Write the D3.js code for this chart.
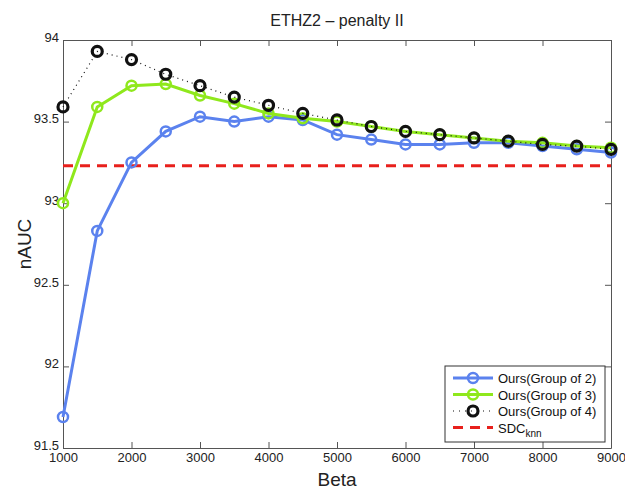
<!DOCTYPE html>
<html lang="en">
<head>
    <meta charset="UTF-8">
    <title>ETHZ2 - penalty II</title>
    <script src="https://cdn.jsdelivr.net/npm/d3@7/dist/d3.min.js"></script>
    <style>
        body { margin: 0; background: #fff; }
        svg { display: block; font-family: "Liberation Sans", Arial, sans-serif; }
    </style>
</head>
<body>
    <svg width="625" height="493"></svg>

    <script>
        const beta = [1000, 1500, 2000, 2500, 3000, 3500, 4000, 4500, 5000, 5500, 6000, 6500, 7000, 7500, 8000, 8500, 9000];
        const group2 = [91.69, 92.83, 93.25, 93.44, 93.53, 93.50, 93.53, 93.51, 93.42, 93.39, 93.36, 93.36, 93.37, 93.37, 93.35, 93.33, 93.31];
        const group3 = [93.00, 93.59, 93.72, 93.73, 93.66, 93.61, 93.55, 93.52, 93.50, 93.47, 93.44, 93.42, 93.40, 93.38, 93.37, 93.35, 93.34];
        const group4 = [93.59, 93.93, 93.88, 93.79, 93.72, 93.65, 93.60, 93.55, 93.51, 93.47, 93.44, 93.42, 93.40, 93.38, 93.36, 93.35, 93.33];
        const sdcKnn = 93.23;
        const xTicks = [1000, 2000, 3000, 4000, 5000, 6000, 7000, 8000, 9000];
        const yTicks = [91.5, 92, 92.5, 93, 93.5, 94];

        const margin = {left: 63, right: 14, top: 40, bottom: 45};
        const width = 625 - margin.left - margin.right;
        const height = 493 - margin.top - margin.bottom;

        const svg = d3.select('svg');
        const g = svg.append('g')
            .attr('transform', `translate(${margin.left}, ${margin.top})`);

        const x = d3.scaleLinear().domain([1000, 9000]).range([0, width]);
        const y = d3.scaleLinear().domain([91.5, 94]).range([height, 0]);

        const axisColor = '#555';

        // axes, MATLAB style: inward ticks on all four sides
        const bottom = g.append('g')
            .attr('transform', `translate(0, ${height})`)
            .call(d3.axisBottom(x).tickValues(xTicks).tickSizeInner(-6).tickSizeOuter(0).tickPadding(8).tickFormat(d3.format('d')));
        const left = g.append('g')
            .call(d3.axisLeft(y).tickValues(yTicks).tickSizeInner(-6).tickSizeOuter(0).tickPadding(4).tickFormat(d3.format('')));
        g.append('g')
            .call(d3.axisTop(x).tickValues(xTicks).tickSizeInner(-6).tickSizeOuter(0).tickFormat(''));
        g.append('g')
            .attr('transform', `translate(${width}, 0)`)
            .call(d3.axisRight(y).tickValues(yTicks).tickSizeInner(-6).tickSizeOuter(0).tickFormat(''));

        g.selectAll('.domain, .tick line').attr('stroke', axisColor);
        g.selectAll('.tick text').attr('fill', '#222').attr('font-size', 13);
        bottom.selectAll('.tick text').attr('dy', '0.45em');
        left.selectAll('.tick text').attr('dy', '0.1em');

        // SDC knn baseline
        g.append('line')
            .attr('x1', x(1000)).attr('x2', x(9000))
            .attr('y1', y(sdcKnn)).attr('y2', y(sdcKnn))
            .attr('stroke', '#e8201c')
            .attr('stroke-width', 3)
            .attr('stroke-dasharray', '10,7');

        const line = d3.line()
            .x((d, i) => x(beta[i]))
            .y(d => y(d));

        const series = [
            {name: 'Ours(Group of 2)', values: group2, color: '#5b82ee', width: 3, dash: null, mw: 2.5},
            {name: 'Ours(Group of 3)', values: group3, color: '#8fe81c', width: 3, dash: null, mw: 2.5},
            {name: 'Ours(Group of 4)', values: group4, color: '#111', width: 1.2, dash: '1,4', mw: 3.2}
        ];

        series.forEach(s => {
            g.append('path')
                .datum(s.values)
                .attr('fill', 'none')
                .attr('stroke', s.color)
                .attr('stroke-width', s.width)
                .attr('stroke-dasharray', s.dash)
                .attr('d', line);
            g.selectAll(null)
                .data(s.values).enter().append('circle')
                .attr('cx', (d, i) => x(beta[i]))
                .attr('cy', d => y(d))
                .attr('r', 5)
                .attr('fill', 'none')
                .attr('stroke', s.color)
                .attr('stroke-width', s.mw);
        });

        // legend
        const lg = svg.append('g').attr('transform', 'translate(445, 366)');
        lg.append('rect')
            .attr('width', 160).attr('height', 76)
            .attr('fill', '#fff')
            .attr('stroke', '#333')
            .attr('stroke-width', 1);

        const rows = [...series, {name: 'SDC', color: '#e8201c', width: 3, dash: '10,7'}];
        rows.forEach((s, i) => {
            const ry = 12 + i * 16.5;
            lg.append('line')
                .attr('x1', 8).attr('x2', 48)
                .attr('y1', ry).attr('y2', ry)
                .attr('stroke', s.color)
                .attr('stroke-width', s.width)
                .attr('stroke-dasharray', s.dash === '1,4' ? '1,5' : s.dash);
            if (s.mw) {
                lg.append('circle')
                    .attr('cx', 28).attr('cy', ry).attr('r', 5)
                    .attr('fill', 'none')
                    .attr('stroke', s.color)
                    .attr('stroke-width', s.mw);
            }
            const t = lg.append('text')
                .attr('x', 53).attr('y', ry + 5)
                .attr('font-size', 13)
                .attr('fill', '#111')
                .text(s.name);
            if (s.name === 'SDC') {
                t.append('tspan').attr('dy', 4).attr('font-size', 10).text('knn');
            }
        });

        // title and axis labels
        svg.append('text')
            .attr('x', margin.left + width / 2).attr('y', 26)
            .attr('text-anchor', 'middle')
            .attr('font-size', 16)
            .attr('fill', '#222')
            .text('ETHZ2 \u2013 penalty II');

        svg.append('text')
            .attr('x', margin.left + width / 2).attr('y', 486)
            .attr('text-anchor', 'middle')
            .attr('font-size', 19)
            .attr('fill', '#222')
            .text('Beta');

        svg.append('text')
            .attr('transform', `translate(31, ${margin.top + height / 2}) rotate(-90)`)
            .attr('text-anchor', 'middle')
            .attr('font-size', 19)
            .attr('fill', '#222')
            .text('nAUC');
    </script>
</body>
</html>
